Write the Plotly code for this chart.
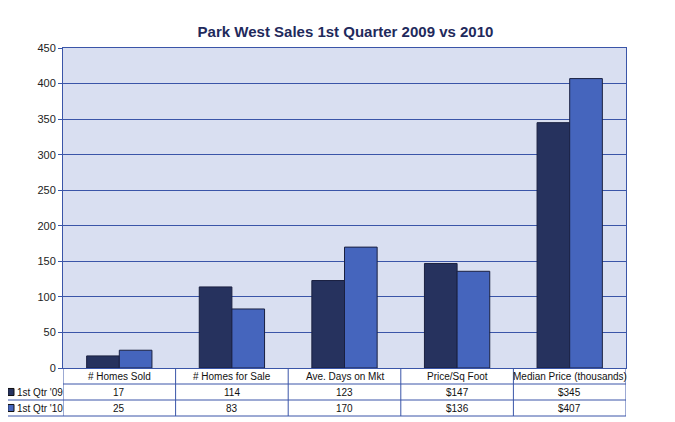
import plotly.graph_objects as go

categories = ["# Homes Sold", "# Homes for Sale", "Ave. Days on Mkt", "Price/Sq Foot", "Median Price (thousands)"]
series_names = ["1st Qtr '09", "1st Qtr '10"]
q1_2009 = [17, 114, 123, 147, 345]
q1_2010 = [25, 83, 170, 136, 407]
labels_2009 = ["17", "114", "123", "$147", "$345"]
labels_2010 = ["25", "83", "170", "$136", "$407"]
colors = ["#26325e", "#4565bd"]
line_col = "#3a55a8"

fig = go.Figure()
for name, vals, col in zip(series_names, [q1_2009, q1_2010], colors):
    fig.add_trace(go.Bar(x=list(range(len(categories))), y=vals, name=name,
                         marker=dict(color=col, line=dict(color="#1a2040", width=1))))

row_h = 16 / 320
left = -58 / 563
shapes, ann = [], []
# horizontal lines of the table
for k in range(1, 4):
    shapes.append(dict(type="line", xref="paper", yref="paper", x0=left if k > 1 else 0, x1=1,
                       y0=-k * row_h, y1=-k * row_h, line=dict(color=line_col, width=1)))
shapes.append(dict(type="line", xref="paper", yref="paper", x0=left, x1=left,
                   y0=-row_h, y1=-3 * row_h, line=dict(color=line_col, width=1)))
for i in range(len(categories) + 1):
    shapes.append(dict(type="line", xref="x", yref="paper", x0=i - 0.5, x1=i - 0.5,
                       y0=0, y1=-3 * row_h, line=dict(color=line_col, width=1)))
for i, c in enumerate(categories):
    ann.append(dict(x=i, y=-0.5 * row_h, text=c))
    ann.append(dict(x=i, y=-1.5 * row_h, text=labels_2009[i]))
    ann.append(dict(x=i, y=-2.5 * row_h, text=labels_2010[i]))
annotations = [dict(a, xref="x", yref="paper", yanchor="middle", showarrow=False,
                    font=dict(size=10, color="#111")) for a in ann]
for k, (name, col) in enumerate(zip(series_names, colors)):
    y = -(1.5 + k) * row_h
    shapes.append(dict(type="rect", xref="paper", yref="paper", x0=left + 0.005, x1=left + 0.016,
                       y0=y - 0.011, y1=y + 0.011, fillcolor=col, line=dict(color="#111", width=1)))
    annotations.append(dict(xref="paper", yref="paper", x=left + 0.018, y=y, xanchor="left",
                            yanchor="middle", text=name, showarrow=False,
                            font=dict(size=10, color="#111")))

fig.update_layout(
    width=675, height=422,
    margin=dict(l=55, r=57, t=40, b=62),
    title=dict(text="<b>Park West Sales 1st Quarter 2009 vs 2010</b>", x=0.5, y=0.955,
               font=dict(size=15, color="#1f2a5c", family="Arial")),
    font=dict(family="Arial", size=10, color="#222"),
    paper_bgcolor="white", plot_bgcolor="#d9dff1",
    showlegend=False, barmode="group", bargap=0.42, bargroupgap=0,
    xaxis=dict(range=[-0.5, 4.5], showticklabels=False, showgrid=False, zeroline=False,
               showline=True, linecolor=line_col, mirror=True),
    yaxis=dict(range=[0, 450], dtick=50, gridcolor=line_col, gridwidth=1, zeroline=False,
               showline=True, linecolor=line_col, mirror=True, ticks="outside",
               ticklen=4, tickcolor=line_col, tickfont=dict(size=11, color="#222")),
    shapes=shapes, annotations=annotations,
)
fig.write_html("out.html")
